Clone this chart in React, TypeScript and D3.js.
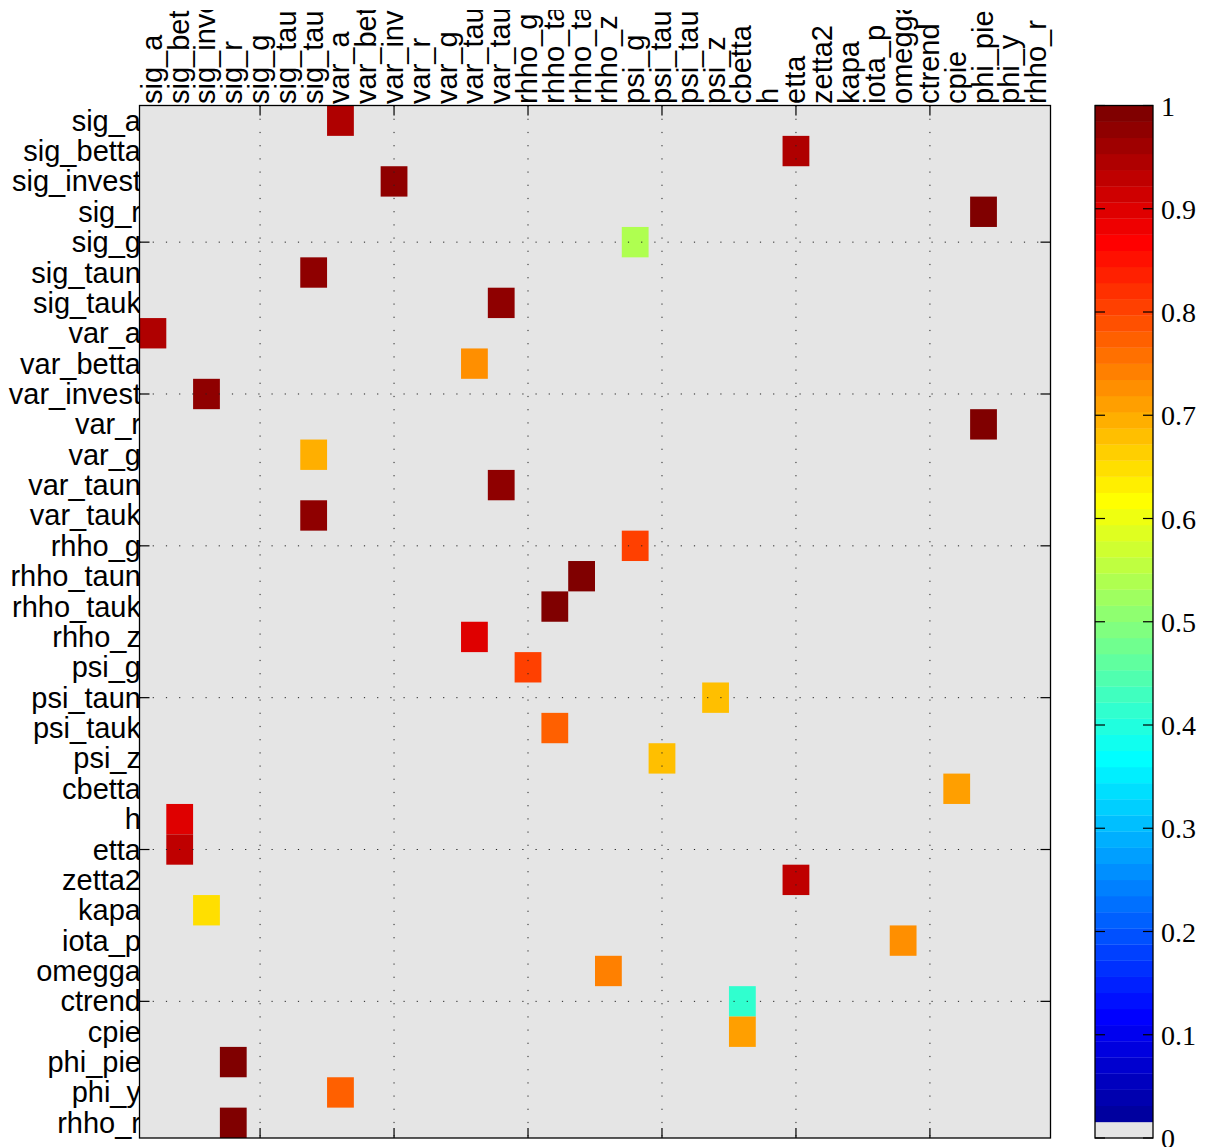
import React from 'react';
import * as d3 from 'd3';

const paramNames = [
  'sig_a', 'sig_betta', 'sig_invest', 'sig_r', 'sig_g', 'sig_taun', 'sig_tauk',
  'var_a', 'var_betta', 'var_invest', 'var_r', 'var_g', 'var_taun', 'var_tauk',
  'rhho_g', 'rhho_taun', 'rhho_tauk', 'rhho_z', 'psi_g', 'psi_taun', 'psi_tauk', 'psi_z',
  'cbetta', 'h', 'etta', 'zetta2', 'kapa', 'iota_p', 'omegga', 'ctrend', 'cpie',
  'phi_pie', 'phi_y', 'rhho_r',
];
const rowNames = paramNames;
const colNames = paramNames;

// For each row: the column holding the non-zero value, and that value
const matchColumn = [
  'var_a', 'etta', 'var_invest', 'phi_pie', 'psi_g', 'sig_tauk', 'var_tauk',
  'sig_a', 'var_taun', 'sig_invest', 'phi_pie', 'sig_tauk', 'var_tauk', 'sig_tauk',
  'psi_g', 'rhho_tauk', 'rhho_taun', 'var_taun', 'rhho_g', 'psi_z', 'rhho_taun', 'psi_taun',
  'cpie', 'sig_betta', 'sig_betta', 'etta', 'sig_invest', 'omegga', 'rhho_z', 'cbetta', 'cbetta',
  'sig_r', 'var_a', 'sig_r',
];
const matchValue = [
  0.945, 0.945, 0.975, 0.99, 0.54, 0.975, 0.975,
  0.945, 0.725, 0.975, 0.99, 0.695, 0.975, 0.975,
  0.805, 0.99, 0.99, 0.898, 0.805, 0.68, 0.773, 0.68,
  0.71, 0.898, 0.93, 0.93, 0.648, 0.725, 0.742, 0.414, 0.71,
  0.99, 0.773, 0.99,
];

const gridTicks = [5, 10, 15, 20, 25, 30];
const colorbarTicks = [0, 0.1, 0.2, 0.3, 0.4, 0.5, 0.6, 0.7, 0.8, 0.9, 1];
const colorbarTickLabels = ['0', '0.1', '0.2', '0.3', '0.4', '0.5', '0.6', '0.7', '0.8', '0.9', '1'];

const BG = '#e5e5e5';

function jetPalette(m: number): string[] {
  const n = Math.ceil(m / 4);
  const u: number[] = [];
  for (let k = 1; k <= n; k++) u.push(k / n);
  for (let k = 1; k < n; k++) u.push(1);
  for (let k = n; k >= 1; k--) u.push(k / n);
  const off = Math.ceil(n / 2) - (m % 4 === 1 ? 1 : 0);
  const get = (idx: number) => (idx >= 1 && idx <= u.length ? u[idx - 1] : 0);
  const out: string[] = [];
  for (let i = 1; i <= m; i++) {
    const r = get(i - off - n);
    const g = get(i - off);
    const b = get(i - off + n);
    out.push(d3.rgb(Math.round(r * 255), Math.round(g * 255), Math.round(b * 255)).formatHex());
  }
  return out;
}

const palette = jetPalette(64);
palette[0] = BG;

export default function App() {
  const W = 1209, H = 1147;
  const left = 139.5, right = 1050.5, top = 105.5, bottom = 1138;
  const x = d3.scaleBand<string>().domain(colNames).range([left, right]).padding(0);
  const y = d3.scaleBand<string>().domain(rowNames).range([top, bottom]).padding(0);
  const color = d3.scaleQuantize<string>().domain([0, 1]).range(palette);

  const cbLeft = 1095, cbRight = 1153;
  const cbY = d3.scaleLinear().domain([0, 1]).range([bottom, top]);
  const tickLen = 10;

  const cx = (i: number) => (x(colNames[i - 1]) as number) + x.bandwidth() / 2;
  const cy = (i: number) => (y(rowNames[i - 1]) as number) + y.bandwidth() / 2;

  const sans = 'Liberation Sans, Arial, Helvetica, sans-serif';
  const serif = 'Liberation Serif, Times New Roman, serif';

  return (
    <div style={{ position: 'absolute', left: 0, top: 0, width: W, height: H, background: '#fff' }}>
      <svg width={W} height={H} style={{ display: 'block' }}>
        <defs>
          <clipPath id="topclip">
            <rect x={0} y={10} width={W} height={H} />
          </clipPath>
        </defs>
        <rect x={0} y={0} width={W} height={H} fill="#fff" />

        {/* row labels */}
        {rowNames.map((r) => (
          <text
            key={'r' + r}
            x={141}
            y={(y(r) as number) + y.bandwidth() / 2 + 10}
            textAnchor="end"
            fontFamily={sans}
            fontSize={29}
            fill="#000"
          >
            {r}
          </text>
        ))}

        {/* column labels */}
        <g clipPath="url(#topclip)">
          {colNames.map((c) => {
            const px = (x(c) as number) + x.bandwidth() / 2 + 9;
            return (
              <text
                key={'c' + c}
                transform={`translate(${px},104) rotate(-90)`}
                textAnchor="start"
                fontFamily={sans}
                fontSize={29}
                fill="#000"
              >
                {c}
              </text>
            );
          })}
        </g>

        {/* plot background */}
        <rect x={left} y={top} width={right - left} height={bottom - top} fill={BG} />

        {/* cells */}
        {rowNames.map((r, i) => (
          <rect
            key={'cell' + r}
            x={x(matchColumn[i]) as number}
            y={y(r) as number}
            width={x.bandwidth()}
            height={y.bandwidth()}
            fill={color(matchValue[i])}
          />
        ))}

        {/* grid */}
        {gridTicks.map((t) => (
          <g key={'g' + t}>
            <line x1={cx(t)} x2={cx(t)} y1={top} y2={bottom} stroke="#222" strokeWidth={1} strokeDasharray="1.2,12" />
            <line x1={left} x2={right} y1={cy(t)} y2={cy(t)} stroke="#222" strokeWidth={1} strokeDasharray="1.2,12" />
          </g>
        ))}

        {/* ticks */}
        {gridTicks.map((t) => (
          <g key={'t' + t} stroke="#000" strokeWidth={1.2}>
            <line x1={cx(t)} x2={cx(t)} y1={top} y2={top + tickLen} />
            <line x1={cx(t)} x2={cx(t)} y1={bottom} y2={bottom - tickLen} />
            <line x1={left} x2={left + tickLen} y1={cy(t)} y2={cy(t)} />
            <line x1={right} x2={right - tickLen} y1={cy(t)} y2={cy(t)} />
          </g>
        ))}

        {/* axes box */}
        <rect x={left} y={top} width={right - left} height={bottom - top} fill="none" stroke="#000" strokeWidth={1.3} />

        {/* colorbar */}
        {palette.map((c, k) => (
          <rect
            key={'cb' + k}
            x={cbLeft}
            y={cbY((k + 1) / 64)}
            width={cbRight - cbLeft}
            height={cbY(k / 64) - cbY((k + 1) / 64) + 0.3}
            fill={c}
          />
        ))}
        {colorbarTicks.map((t, i) => (
          <g key={'cbt' + i}>
            <line x1={cbLeft} x2={cbLeft + tickLen} y1={cbY(t)} y2={cbY(t)} stroke="#000" strokeWidth={1.2} />
            <line x1={cbRight} x2={cbRight - tickLen} y1={cbY(t)} y2={cbY(t)} stroke="#000" strokeWidth={1.2} />
            <text x={1161} y={cbY(t) + 10} fontFamily={serif} fontSize={28} fill="#000">
              {colorbarTickLabels[i]}
            </text>
          </g>
        ))}
        <rect x={cbLeft} y={top} width={cbRight - cbLeft} height={bottom - top} fill="none" stroke="#000" strokeWidth={1.3} />
      </svg>
    </div>
  );
}
